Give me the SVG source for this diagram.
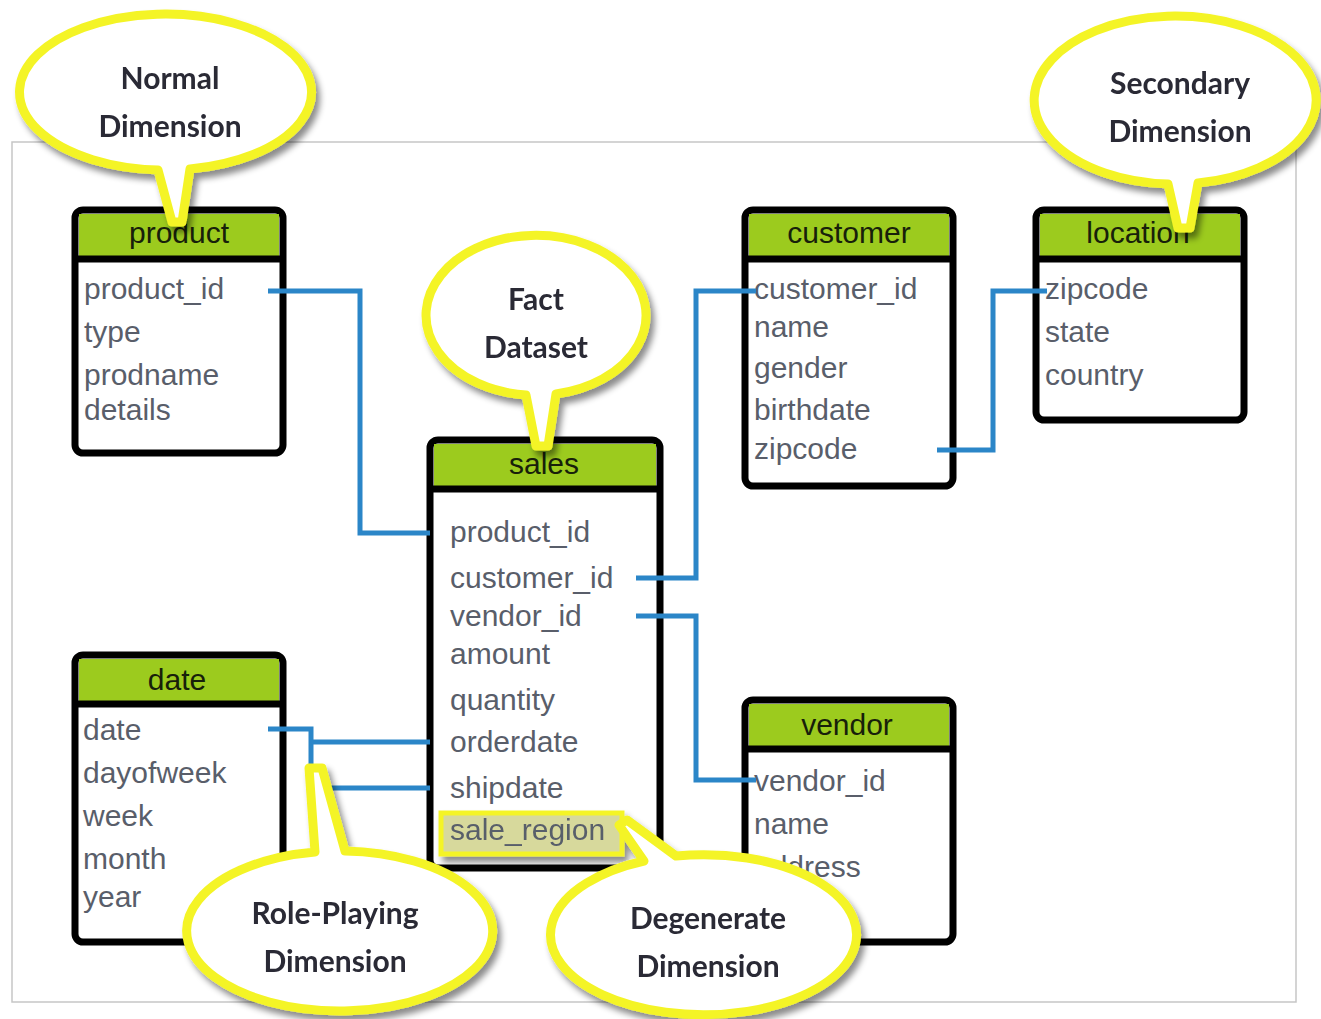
<svg xmlns="http://www.w3.org/2000/svg" width="1321" height="1019" viewBox="0 0 1321 1019">
<style>
.tbl{fill:#fff;stroke:#000;stroke-width:7}
.hdr{fill:#9ccb1e}
.sep{stroke:#000;stroke-width:7}
.ht{font-family:"Liberation Sans",Arial,sans-serif;font-size:30px;fill:#17200a;text-anchor:middle}
.ft{font-family:"Liberation Sans",Arial,sans-serif;font-size:30px;fill:#595e6a}
.conn{fill:none;stroke:#2b86c8;stroke-width:5;stroke-linejoin:miter}
.bub{fill:#fff;stroke:#f4f428;stroke-width:9;stroke-linejoin:round}
.bt{font-family:Lato,"Open Sans",sans-serif;font-weight:bold;font-size:30px;fill:#2a2a36;text-anchor:middle}
</style>
<defs>
<filter id="sh" x="-20%" y="-20%" width="140%" height="140%">
<feDropShadow dx="4" dy="6" stdDeviation="3" flood-color="#000" flood-opacity="0.45"/>
</filter>
</defs>
<rect x="0" y="0" width="1321" height="1019" fill="#fff"/>
<rect x="12" y="142" width="1284" height="860" fill="none" stroke="#c6c6c6" stroke-width="1.5"/>

<g id="product">
<rect class="tbl" x="75" y="210" width="208" height="243" rx="8"/>
<rect class="hdr" x="79" y="214" width="200" height="43"/>
<line class="sep" x1="75" y1="259" x2="283" y2="259"/>
<text class="ht" x="179" y="243">product</text>
<text class="ft" x="84" y="299">product_id</text>
<text class="ft" x="84" y="342">type</text>
<text class="ft" x="84" y="385">prodname</text>
<text class="ft" x="84" y="420">details</text>
</g>

<g id="customer">
<rect class="tbl" x="745" y="210" width="208" height="276" rx="8"/>
<rect class="hdr" x="749" y="214" width="200" height="43"/>
<line class="sep" x1="745" y1="259" x2="953" y2="259"/>
<text class="ht" x="849" y="243">customer</text>
<text class="ft" x="754" y="299">customer_id</text>
<text class="ft" x="754" y="337">name</text>
<text class="ft" x="754" y="378">gender</text>
<text class="ft" x="754" y="420">birthdate</text>
<text class="ft" x="754" y="459">zipcode</text>
</g>

<g id="location">
<rect class="tbl" x="1036" y="210" width="208" height="210" rx="8"/>
<rect class="hdr" x="1040" y="214" width="200" height="43"/>
<line class="sep" x1="1036" y1="259" x2="1244" y2="259"/>
<text class="ht" x="1138" y="243">location</text>
<text class="ft" x="1045" y="299">zipcode</text>
<text class="ft" x="1045" y="342">state</text>
<text class="ft" x="1045" y="385">country</text>
</g>

<g id="sales">
<rect class="tbl" x="430" y="440" width="230" height="428" rx="8"/>
<rect class="hdr" x="434" y="444" width="222" height="43"/>
<line class="sep" x1="430" y1="489" x2="660" y2="489"/>
<text class="ht" x="544" y="474">sales</text>
<text class="ft" x="450" y="542">product_id</text>
<text class="ft" x="450" y="588">customer_id</text>
<text class="ft" x="450" y="626">vendor_id</text>
<text class="ft" x="450" y="664">amount</text>
<text class="ft" x="450" y="710">quantity</text>
<text class="ft" x="450" y="752">orderdate</text>
<text class="ft" x="450" y="798">shipdate</text>
</g>

<g id="date">
<rect class="tbl" x="75" y="655" width="208" height="287" rx="8"/>
<rect class="hdr" x="79" y="659" width="200" height="43"/>
<line class="sep" x1="75" y1="704" x2="283" y2="704"/>
<text class="ht" x="177" y="690">date</text>
<text class="ft" x="83" y="740">date</text>
<text class="ft" x="83" y="783">dayofweek</text>
<text class="ft" x="83" y="826">week</text>
<text class="ft" x="83" y="869">month</text>
<text class="ft" x="83" y="907">year</text>
</g>

<g id="vendor">
<rect class="tbl" x="745" y="700" width="208" height="242" rx="8"/>
<rect class="hdr" x="749" y="704" width="200" height="43"/>
<line class="sep" x1="745" y1="749" x2="953" y2="749"/>
<text class="ht" x="847" y="735">vendor</text>
<text class="ft" x="754" y="791">vendor_id</text>
<text class="ft" x="754" y="834">name</text>
<text class="ft" x="754" y="877">address</text>
</g>

<g id="connectors">
<path class="conn" d="M268,291 H360 V533 H430"/>
<path class="conn" d="M636,578 H696 V291 H756"/>
<path class="conn" d="M636,616 H696 V780 H756"/>
<path class="conn" d="M937,450 H993 V291 H1047"/>
<path class="conn" d="M268,729 H311 V775"/>
<path class="conn" d="M311,742 H430"/>
<path class="conn" d="M322,788 H430"/>
</g>

<g id="normal-dimension" filter="url(#sh)">
<path class="bub" d="M158,170 L172,222 L182,222 L190,169 A146 78 0 1 0 158,170 Z"/>
<text class="bt" x="170" y="89">Normal</text>
<text class="bt" x="170" y="137">Dimension</text>
</g>

<g id="secondary-dimension" filter="url(#sh)">
<path class="bub" d="M1168,184 L1178,228 L1190,228 L1198,183 A141 84 0 1 0 1168,184 Z"/>
<text class="bt" x="1180" y="94">Secondary</text>
<text class="bt" x="1180" y="142">Dimension</text>
</g>

<g id="fact-dataset" filter="url(#sh)">
<path class="bub" d="M526,395 L536,446 L548,446 L556,394 A110 80 0 1 0 526,395 Z"/>
<text class="bt" x="536" y="310">Fact</text>
<text class="bt" x="536" y="358">Dataset</text>
</g>

<g id="role-playing-dimension" filter="url(#sh)">
<path class="bub" d="M345,851 L322,768 L309,768 L315,852 A153 80 0 1 0 345,851 Z"/>
<text class="bt" x="335" y="924">Role-Playing</text>
<text class="bt" x="335" y="972">Dimension</text>
</g>

<g id="degenerate-dimension" filter="url(#sh)">
<rect x="441" y="813" width="181" height="41" fill="#d7d99c" stroke="#f4f428" stroke-width="5"/>
<text class="ft" x="450" y="840">sale_region</text>
<path class="bub" d="M676,856 L627,820 L619,825 L644,861 A153 80 0 1 0 676,856 Z"/>
<text class="bt" x="708" y="929">Degenerate</text>
<text class="bt" x="708" y="977">Dimension</text>
</g>
</svg>
